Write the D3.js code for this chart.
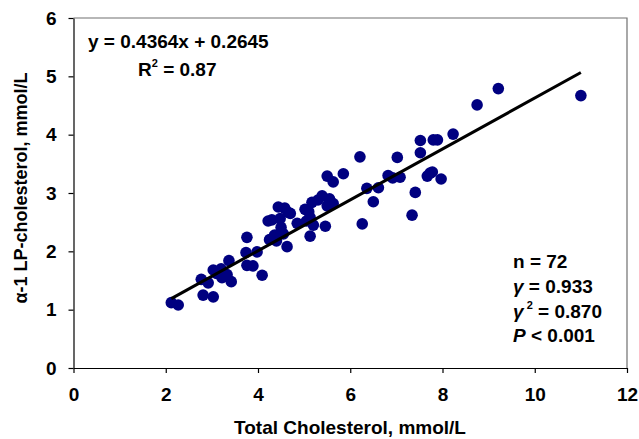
<!DOCTYPE html>
<html>
<head>
<meta charset="utf-8">
<script src="https://cdn.jsdelivr.net/npm/d3@7"></script>
<style>
  body { margin: 0; background: #fff; }
  text { font-family: "Liberation Sans", Arial, sans-serif; font-weight: bold; fill: #000; }
</style>
</head>
<body>
<div id="vis"></div>
<script>
const svgWidth = 639;
const svgHeight = 439;

// total cholesterol (x) and alpha-1 LP cholesterol (y), mmol/L
const totalChol = [
  2.12, 2.27, 2.81, 3.03, 2.77, 2.92, 3.03, 3.20, 3.22, 3.33, 3.42, 3.37,
  3.76, 3.74, 3.98, 3.76, 3.89, 4.09, 4.25, 4.22, 4.44, 4.65, 4.48, 4.50,
  4.36, 4.63, 4.85, 5.02, 5.17, 5.39, 5.13, 5.20, 5.13, 5.46, 5.63, 5.50,
  5.63, 5.85, 5.50, 6.21, 6.36, 6.61, 6.50, 6.26, 6.82, 7.02, 7.08, 7.41,
  7.34, 7.52, 7.52, 7.80, 7.89, 8.23, 7.78, 7.67, 7.97, 8.75, 9.21, 11.0,
  4.30, 4.55, 4.70, 5.05, 5.30, 4.40, 3.10, 5.55, 6.92, 4.58, 7.73, 5.10
];
const lpChol = [
  1.12, 1.08, 1.25, 1.22, 1.52, 1.46, 1.68, 1.70, 1.55, 1.60, 1.48, 1.84,
  2.24, 1.98, 1.99, 1.76, 1.75, 1.59, 2.20, 2.52, 2.76, 2.67, 2.56, 2.41,
  2.28, 2.08, 2.48, 2.72, 2.84, 2.95, 2.58, 2.45, 2.26, 2.43, 2.82, 3.29,
  3.19, 3.33, 2.78, 3.62, 3.08, 3.09, 2.85, 2.47, 3.30, 3.61, 3.27, 3.01,
  2.62, 3.90, 3.69, 3.91, 3.91, 4.01, 3.36, 3.29, 3.24, 4.51, 4.79, 4.67,
  2.54, 2.30, 2.65, 2.52, 2.88, 2.18, 1.62, 2.90, 3.26, 2.74, 3.34, 2.68
];

const slope = 0.4364;
const intercept = 0.2645;

const xTicks = [0, 2, 4, 6, 8, 10, 12];
const yTicks = [0, 1, 2, 3, 4, 5, 6];

const eqLines = ['y = 0.4364x + 0.2645'];
const statsLines = ['n = 72', '0.933', '0.870', '0.001'];

const margin = { left: 73.5, right: 12, top: 18, bottom: 71 };
const FS = 19;

const svg = d3.select('#vis').append('svg').attr('width', svgWidth).attr('height', svgHeight);

const x = d3.scaleLinear().domain([0, 12]).range([margin.left, svgWidth - margin.right]);
const y = d3.scaleLinear().domain([0, 6]).range([svgHeight - margin.bottom, margin.top]);

// plot frame (top/right)
svg.append('path')
  .attr('d', `M${x(0)},${y(6)}H${x(12)}V${y(0)}`)
  .attr('fill', 'none')
  .attr('stroke', '#707070')
  .attr('stroke-width', 1.2);

const xAxis = d3.axisBottom(x).tickValues(xTicks).tickSize(5).tickSizeOuter(0).tickPadding(15).tickFormat(d3.format('d'));
const yAxis = d3.axisLeft(y).tickValues(yTicks).tickSize(5).tickSizeOuter(0).tickPadding(12).tickFormat(d3.format('d'));

const gx = svg.append('g').attr('transform', `translate(0,${y(0)})`).call(xAxis);
const gy = svg.append('g').attr('transform', `translate(${x(0)},0)`).call(yAxis);

[gx, gy].forEach((g) => {
  g.select('.domain').attr('stroke', '#000').attr('stroke-width', 1.2);
  g.selectAll('.tick line').attr('stroke', '#000').attr('stroke-width', 1.2);
  g.selectAll('.tick text')
    .attr('font-family', '"Liberation Sans", Arial, sans-serif')
    .attr('font-weight', 'bold')
    .attr('font-size', FS)
    .attr('fill', '#000');
});

// points
const pts = totalChol.map((v, i) => ({ tc: v, lp: lpChol[i] }));
svg.append('g')
  .selectAll('circle')
  .data(pts)
  .enter()
  .append('circle')
  .attr('cx', (d) => x(d.tc))
  .attr('cy', (d) => y(d.lp))
  .attr('r', 5.8)
  .attr('fill', '#000080');

// regression line
const xr = d3.extent(totalChol);
svg.append('line')
  .attr('x1', x(xr[0]))
  .attr('y1', y(slope * xr[0] + intercept))
  .attr('x2', x(xr[1]))
  .attr('y2', y(slope * xr[1] + intercept))
  .attr('stroke', '#000')
  .attr('stroke-width', 3);

// axis titles
svg.append('text')
  .attr('x', 350)
  .attr('y', 434)
  .attr('text-anchor', 'middle')
  .attr('font-size', 19)
  .text('Total Cholesterol, mmol/L');

svg.append('text')
  .attr('transform', 'translate(27,188) rotate(-90)')
  .attr('text-anchor', 'middle')
  .attr('font-size', 18)
  .text('α-1 LP-cholesterol, mmol/L');

// equation
svg.append('text').attr('x', 88).attr('y', 48).attr('font-size', FS).text(eqLines[0]);
const r2 = svg.append('text').attr('x', 138).attr('y', 76).attr('font-size', FS);
r2.append('tspan').text('R');
r2.append('tspan').attr('font-size', 11).attr('dy', -9).text('2');
r2.append('tspan').attr('dy', 9).text(' = 0.87');

// stats block
const sx = 513;
svg.append('text').attr('x', sx).attr('y', 268).attr('font-size', FS).text(statsLines[0]);
const g1 = svg.append('text').attr('x', sx).attr('y', 293).attr('font-size', FS);
g1.append('tspan').attr('font-style', 'italic').text('γ');
g1.append('tspan').text('  = ' + statsLines[1]);
const g2 = svg.append('text').attr('x', sx).attr('y', 318).attr('font-size', FS);
g2.append('tspan').attr('font-style', 'italic').text('γ');
g2.append('tspan').attr('font-size', 11).attr('dy', -9).text(' 2');
g2.append('tspan').attr('dy', 9).text(' = ' + statsLines[2]);
const p = svg.append('text').attr('x', sx).attr('y', 342).attr('font-size', FS);
p.append('tspan').attr('font-style', 'italic').text('P');
p.append('tspan').text(' < ' + statsLines[3]);
</script>
</body>
</html>
